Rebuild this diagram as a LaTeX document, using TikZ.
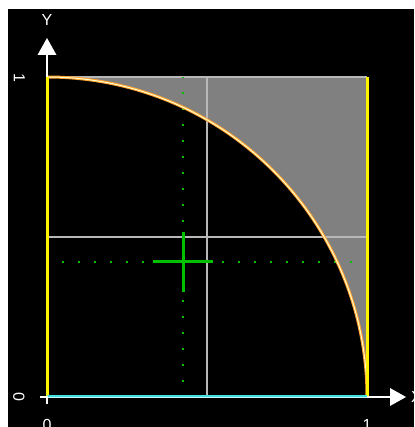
\documentclass[tikz,border=0pt]{standalone}
\usepackage{fontspec}
\setmainfont{Liberation Sans}
\definecolor{gridc}{HTML}{B8B8B8}
\definecolor{fillc}{HTML}{808080}
\definecolor{greenc}{HTML}{00C000}
\definecolor{cyanc}{HTML}{40E0E0}
\definecolor{orangec}{HTML}{FFA030}
\definecolor{lightc}{HTML}{FFFFC8}
\begin{document}
\begin{tikzpicture}[x=1pt,y=1pt,
  gridline/.style={draw=gridc,line width=1.5pt},
  dotline/.style={draw=greenc,line width=2pt,dash pattern=on 2pt off 14pt,dash phase=1pt},
  crossline/.style={draw=greenc,line width=3pt},
  edgeline/.style={draw=yellow,line width=3pt},
  axisline/.style={draw=white,line width=1.5pt},
  lab/.style={text=white,inner sep=0pt,font=\fontsize{16}{18}\selectfont}]
\useasboundingbox (0,0) rectangle (414,427);
\fill[white] (0,0) rectangle (414,427);
\fill[black] (8,0) rectangle (414,418);
% shaded region outside the quarter circle
\fill[fillc] (367,30) arc[start angle=0,end angle=90,radius=320pt] -- (367,350) -- cycle;
% grid lines
\draw[gridline] (47,350) -- (367,350);
\draw[gridline] (47,190) -- (367,190);
\draw[gridline] (207,30) -- (207,350);
% dotted guide lines
\draw[dotline] (183,350) -- (183,30);
\draw[dotline] (47,165) -- (367,165);
% cross
\coordinate (c) at (183,165);
\draw[crossline] ([xshift=-30pt]c) -- ([xshift=30pt]c);
\draw[crossline] ([yshift=-30pt]c) -- ([yshift=30pt]c);
% quarter circle
\draw[orangec,line width=3pt] (367,30) arc[start angle=0,end angle=90,radius=320pt];
\draw[lightc,line width=1pt] (367,30) arc[start angle=0,end angle=90,radius=320pt];
% yellow sides
\coordinate (o) at (47,30);
\coordinate (ytop) at (47,350);
\coordinate (xend) at (367,30);
\coordinate (corner) at (367,350);
\draw[edgeline] (o) -- (ytop);
\draw[edgeline] (xend) -- (corner);
% cyan base
\draw[cyanc,line width=3pt] (o) -- (xend);
\draw[white!70!cyanc,line width=0.8pt] (o) -- (xend);
% axes
\coordinate (yb) at (47,372);
\coordinate (xb) at (390,30);
\draw[axisline] (ytop) -- (yb);
\fill[white] (37.5,372) -- (56.5,372) -- (47,389) -- cycle;
\draw[axisline] (xend) -- (xb);
\fill[white] (390,39) -- (390,21) -- (406,30) -- cycle;
\draw[axisline] (40,30) -- (o) -- (47,23);
% labels
\node[lab] (ylab) at (47,407) {Y};
\node[lab,anchor=west] (xlab) at (411,30) {X};
\node[lab,rotate=-90] (y1) at (19.5,349) {1};
\node[lab,rotate=-90] (y0) at (19,30) {0};
\node[lab,anchor=north] (x0) at (47,7.5) {0};
\node[lab,anchor=north] (x1) at (367,7.5) {1};
\end{tikzpicture}
\end{document}
